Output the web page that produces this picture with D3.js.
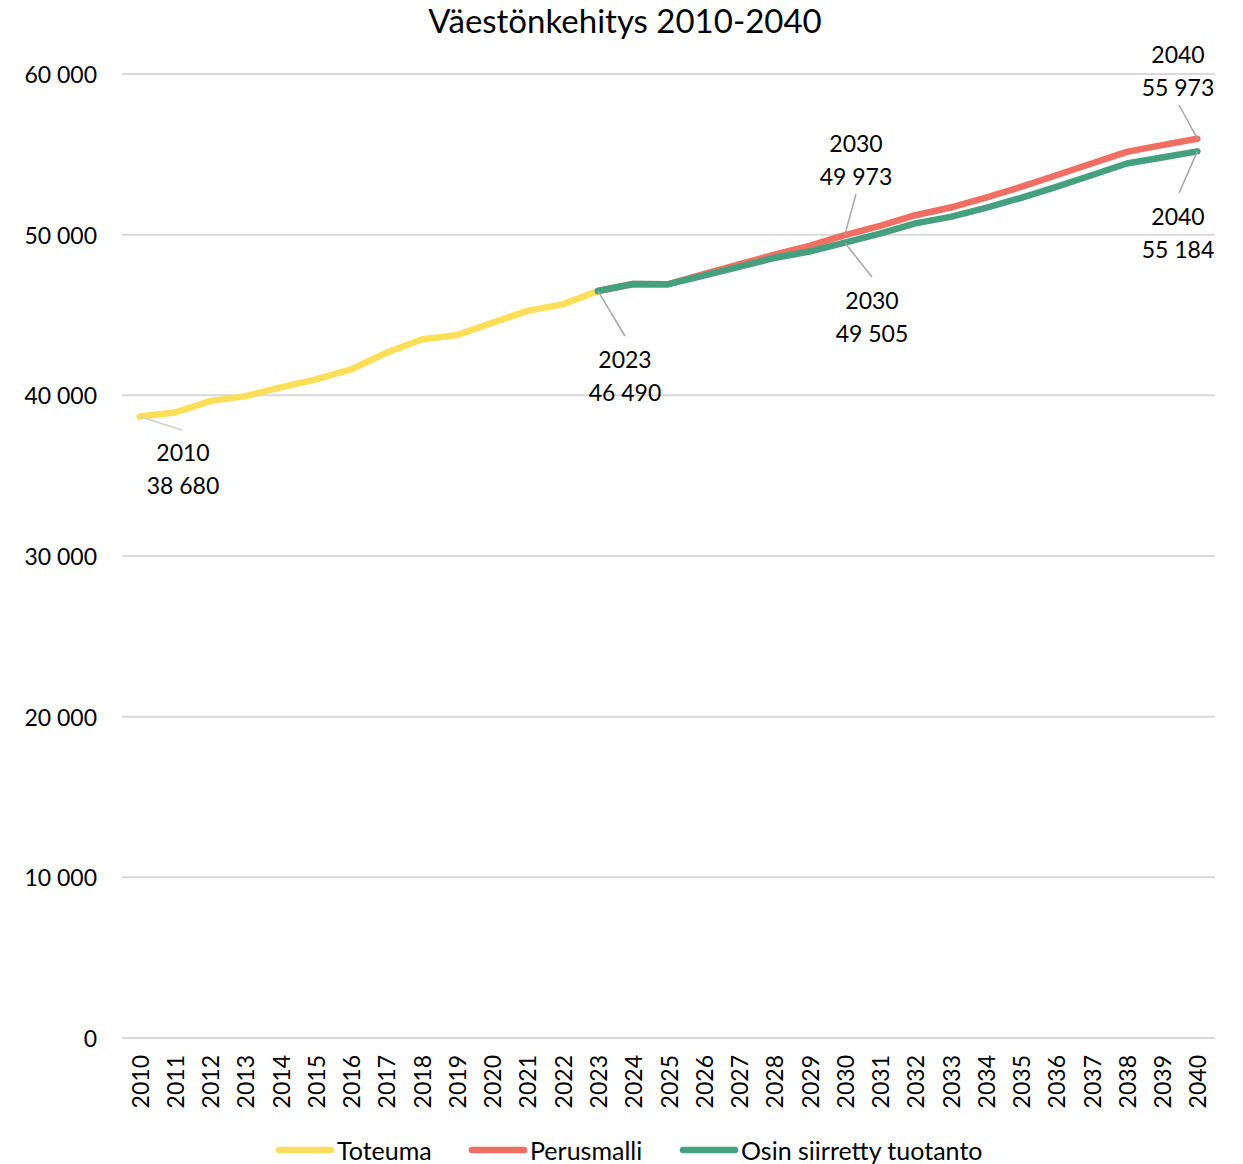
<!DOCTYPE html>
<meta charset="utf-8">
<script src="https://d3js.org/d3.v7.min.js"></script>
<style>
  body { margin: 0; background: #fff; }
  text { font-family: Lato, "Open Sans", sans-serif; fill: #000; }
</style>
<svg id="chart" width="1243" height="1164"></svg>
<script>

// data
const years = [2010, 2011, 2012, 2013, 2014, 2015, 2016, 2017, 2018, 2019, 2020,
  2021, 2022, 2023, 2024, 2025, 2026, 2027, 2028, 2029, 2030,
  2031, 2032, 2033, 2034, 2035, 2036, 2037, 2038, 2039, 2040]
const toteumaYears = [2010, 2011, 2012, 2013, 2014, 2015, 2016, 2017, 2018, 2019, 2020, 2021, 2022, 2023]
const toteuma = [38680, 38930, 39640, 39950, 40490, 40990, 41610, 42650, 43480, 43750, 44510, 45260, 45660, 46490]
const ennusteYears = [2023, 2024, 2025, 2026, 2027, 2028, 2029, 2030, 2031, 2032, 2033, 2034, 2035, 2036, 2037, 2038, 2039, 2040]
const perusmalli = [46490, 46930, 46920, 47550, 48150, 48750, 49300, 49973, 50550, 51210, 51690, 52310, 52970, 53700, 54430, 55150, 55570, 55973]
const osin = [46490, 46930, 46920, 47450, 48000, 48550, 48950, 49505, 50070, 50700, 51110, 51670, 52290, 52970, 53700, 54430, 54800, 55184]
const yTicks = [0, 10000, 20000, 30000, 40000, 50000, 60000]
const seriesNames = ["Toteuma", "Perusmalli", "Osin siirretty tuotanto"]
const colors = ["#fcde58", "#f06e62", "#44a07f"]

const svg = d3.select("#chart")
const plotLeft = 122, plotRight = 1215, plotTop = 74, plotBottom = 1038

const x = d3.scalePoint()
  .domain(years)
  .range([plotLeft, plotRight])
  .padding(0.5)

const y = d3.scaleLinear()
  .domain([0, 60000])
  .range([plotBottom, plotTop])

const fmt = v => d3.format(",")(v).replace(/,/g, " ")

// title
svg.append("text")
  .attr("x", 625)
  .attr("y", 20)
  .attr("text-anchor", "middle")
  .attr("dominant-baseline", "central")
  .style("font-size", "33px")
  .text("Väestönkehitys 2010-2040")

// gridlines
svg.append("g")
  .selectAll("line")
  .data(yTicks)
  .join("line")
    .attr("x1", plotLeft)
    .attr("x2", plotRight)
    .attr("y1", d => y(d))
    .attr("y2", d => y(d))
    .attr("stroke", "#d9d9d9")
    .attr("stroke-width", 2)

// y labels
svg.append("g")
  .selectAll("text")
  .data(yTicks)
  .join("text")
    .attr("x", 97)
    .attr("y", d => y(d))
    .attr("text-anchor", "end")
    .attr("dominant-baseline", "central")
    .style("font-size", "23px")
    .text(d => fmt(d))

// x labels (rotated)
svg.append("g")
  .selectAll("text")
  .data(years)
  .join("text")
    .attr("transform", d => `translate(${x(d)},1055) rotate(-90)`)
    .attr("text-anchor", "end")
    .attr("dominant-baseline", "central")
    .style("font-size", "23px")
    .text(d => d)

// lines
const line = d3.line()
  .x(d => x(d[0]))
  .y(d => y(d[1]))

const seriesData = [
  d3.zip(toteumaYears, toteuma),
  d3.zip(ennusteYears, perusmalli),
  d3.zip(ennusteYears, osin)
]

svg.append("g")
  .selectAll("path")
  .data(seriesData)
  .join("path")
    .attr("d", line)
    .attr("fill", "none")
    .attr("stroke", (d, i) => colors[i])
    .attr("stroke-width", 6.5)
    .attr("stroke-linejoin", "round")
    .attr("stroke-linecap", "round")

// data labels: series index, year, label centre, leader end, leader colour
const labels = [
  { s: 0, year: 2010, lx: 183, ly: 452, ex: 182, ey: 430, c: "#d0d0d0" },
  { s: 2, year: 2023, lx: 625, ly: 359, ex: 625, ey: 336, c: "#a6a6a6" },
  { s: 1, year: 2030, lx: 856, ly: 143, ex: 856, ey: 194, c: "#a6a6a6" },
  { s: 2, year: 2030, lx: 872, ly: 300, ex: 872, ey: 277, c: "#a6a6a6" },
  { s: 1, year: 2040, lx: 1178, ly: 54, ex: 1179, ey: 105, c: "#a6a6a6" },
  { s: 2, year: 2040, lx: 1178, ly: 216, ex: 1179, ey: 193, c: "#a6a6a6" }
]
const valueOf = (s, yr) => seriesData[s].find(p => p[0] === yr)[1]

const lab = svg.append("g")
lab.selectAll("line")
  .data(labels)
  .join("line")
    .attr("x1", d => x(d.year))
    .attr("y1", d => y(valueOf(d.s, d.year)))
    .attr("x2", d => d.ex)
    .attr("y2", d => d.ey)
    .attr("stroke", d => d.c)
    .attr("stroke-width", 1.5)

const lt = lab.selectAll("text")
  .data(labels)
  .join("text")
    .attr("text-anchor", "middle")
    .style("font-size", "23px")
lt.append("tspan")
  .attr("x", d => d.lx)
  .attr("y", d => d.ly)
  .attr("dominant-baseline", "central")
  .text(d => d.year)
lt.append("tspan")
  .attr("x", d => d.lx)
  .attr("y", d => d.ly + 33)
  .attr("dominant-baseline", "central")
  .text(d => fmt(valueOf(d.s, d.year)))

// legend
const legendX = [279, 472, 683]
const leg = svg.append("g")
  .selectAll("g")
  .data(seriesNames)
  .join("g")
    .attr("transform", (d, i) => `translate(${legendX[i]},1150)`)
leg.append("line")
  .attr("x1", 0)
  .attr("x2", 52)
  .attr("stroke", (d, i) => colors[i])
  .attr("stroke-width", 6.5)
  .attr("stroke-linecap", "round")
leg.append("text")
  .attr("x", 58)
  .attr("dominant-baseline", "central")
  .style("font-size", "25px")
  .text(d => d)

</script>
